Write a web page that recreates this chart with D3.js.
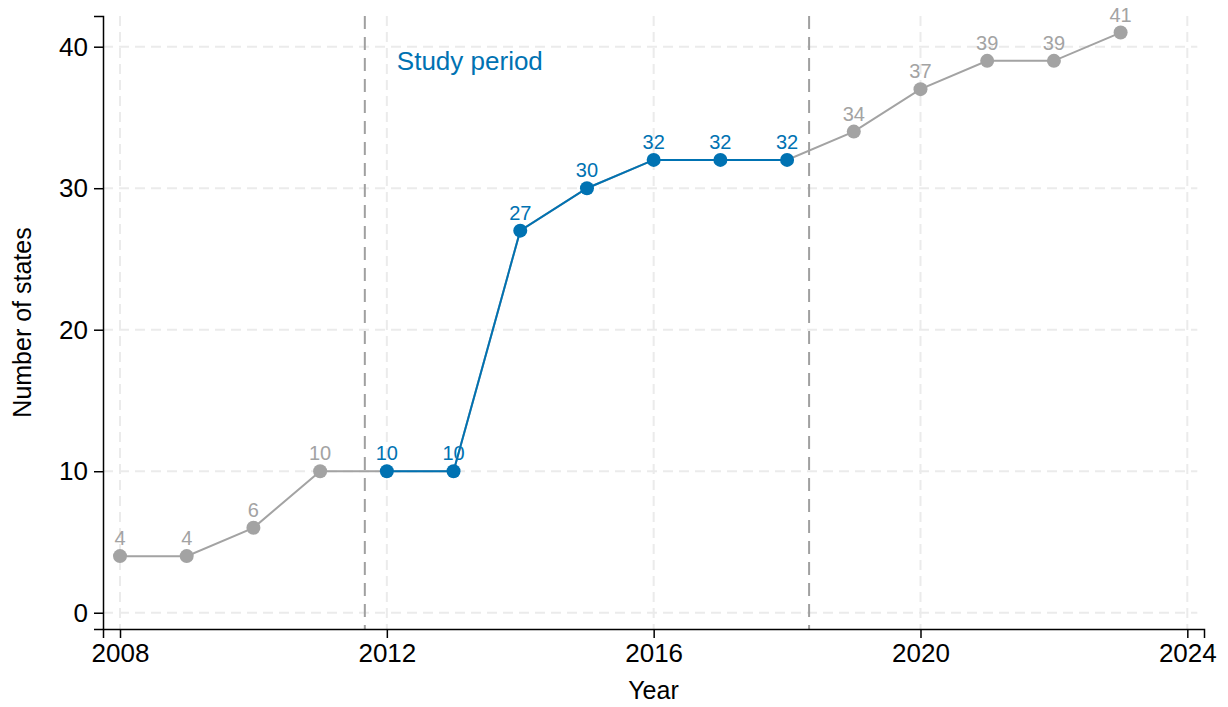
<!DOCTYPE html>
<html>
<head>
<meta charset="utf-8">
<script src="https://cdn.jsdelivr.net/npm/d3@7"></script>
<style>
  html, body { margin: 0; padding: 0; background: #fff; }
  svg { display: block; font-family: "Liberation Sans", Arial, sans-serif; }
</style>
</head>
<body>
<svg id="chart" width="1228" height="707"></svg>
<script>
const years = [2008, 2009, 2010, 2011, 2012, 2013, 2014, 2015, 2016, 2017, 2018, 2019, 2020, 2021, 2022, 2023];
const states = [4, 4, 6, 10, 10, 10, 27, 30, 32, 32, 32, 34, 37, 39, 39, 41];
const studyStart = 2012, studyEnd = 2018;
const refLines = [2011.67, 2018.33];
const xTicks = [2008, 2012, 2016, 2020, 2024];
const yTicks = [0, 10, 20, 30, 40];
const annotation = "Study period";
const xTitle = "Year";
const yTitle = "Number of states";

const BLUE = "#0072B2", GRAY = "#a3a3a3";
const data = years.map((y, i) => ({ year: y, value: states[i] }));
const study = data.filter(d => d.year >= studyStart && d.year <= studyEnd);

const svg = d3.select("#chart");
const x = d3.scaleLinear().domain([2007.745, 2024.25]).range([103, 1204]);
const y = d3.scaleLinear().domain([-1.15, 42.17]).range([629, 16]);

// grid
const g = svg.append("g");
g.selectAll("line.hg").data(yTicks).join("line")
  .attr("x1", x(2007.745)).attr("x2", x(2024.15))
  .attr("y1", d => y(d)).attr("y2", d => y(d))
  .attr("stroke", "#ebebeb").attr("stroke-width", 2).attr("stroke-dasharray", "10,6");
g.selectAll("line.vg").data(xTicks).join("line")
  .attr("x1", d => x(d)).attr("x2", d => x(d))
  .attr("y1", y(42.17)).attr("y2", y(-1.15))
  .attr("stroke", "#ebebeb").attr("stroke-width", 2).attr("stroke-dasharray", "10,6");

// reference lines
svg.selectAll("line.ref").data(refLines).join("line")
  .attr("x1", d => x(d)).attr("x2", d => x(d))
  .attr("y1", y(42.17)).attr("y2", y(-1.15))
  .attr("stroke", "#a0a0a0").attr("stroke-width", 2).attr("stroke-dasharray", "13,8");

// axes
const xAxis = d3.axisBottom(x).tickValues(xTicks).tickFormat(d3.format("d")).tickSize(9).tickPadding(6);
const yAxis = d3.axisLeft(y).tickValues(yTicks).tickSize(9).tickPadding(6);
const gx = svg.append("g").attr("transform", `translate(0,${y(-1.15)})`).call(xAxis);
const gy = svg.append("g").attr("transform", `translate(${x(2007.745)},0)`).call(yAxis);
[gx, gy].forEach(a => {
  a.select(".domain").attr("stroke", "#000").attr("stroke-width", 1.5);
  a.selectAll(".tick line").attr("stroke", "#000").attr("stroke-width", 1.5);
  a.selectAll(".tick text").attr("fill", "#000").style("font-size", "26px").style("font-family", "Liberation Sans, Arial, sans-serif");
});
gx.selectAll(".tick text").attr("dy", "0.71em").attr("y", 15);

// titles
svg.append("text").attr("x", (x.range()[0] + x.range()[1]) / 2).attr("y", 699)
  .attr("text-anchor", "middle").style("font-size", "25px").attr("fill", "#000").text(xTitle);
svg.append("text").attr("transform", `translate(31,${(y.range()[0] + y.range()[1]) / 2}) rotate(-90)`)
  .attr("text-anchor", "middle").style("font-size", "25px").attr("fill", "#000").text(yTitle);

// annotation
svg.append("text").attr("x", x(2012.15)).attr("y", 70)
  .style("font-size", "26px").attr("fill", BLUE).text(annotation);

// value labels
const inStudy = d => d.year >= studyStart && d.year <= studyEnd;
svg.selectAll("text.lbl").data(data).join("text")
  .attr("x", d => x(d.year)).attr("y", d => y(d.value) - 11)
  .attr("text-anchor", "middle").style("font-size", "20px")
  .attr("fill", d => inStudy(d) ? BLUE : GRAY).text(d => d.value);

// lines
const line = d3.line().x(d => x(d.year)).y(d => y(d.value));
svg.append("path").datum(data).attr("d", line).attr("fill", "none").attr("stroke", GRAY).attr("stroke-width", 2);
svg.append("path").datum(study).attr("d", line).attr("fill", "none").attr("stroke", BLUE).attr("stroke-width", 2);

// points
svg.selectAll("circle.pt").data(data).join("circle")
  .attr("cx", d => x(d.year)).attr("cy", d => y(d.value)).attr("r", 7)
  .attr("fill", d => inStudy(d) ? BLUE : GRAY);
</script>
</body>
</html>
